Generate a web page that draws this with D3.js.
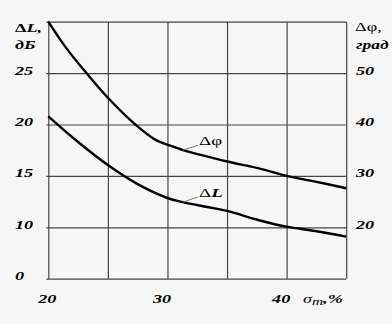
<!DOCTYPE html>
<html>
<head>
<meta charset="utf-8">
<script src="https://cdn.jsdelivr.net/npm/d3@7"></script>
<style>
  html, body { margin: 0; padding: 0; background: #f6f6f6; }
  svg { display: block; }
</style>
</head>
<body>
<script>
// ---- data ----
const phiX = [20, 21.4, 23.2, 25, 27.3, 29, 30.6, 31.3, 32.6, 35, 37.6, 40, 42.4, 45];
const phiY = [60, 55.2, 50, 45.2, 40, 37.0, 35.6, 35.0, 34.2, 32.8, 31.5, 30, 28.9, 27.6];
const dlX = [20, 22.5, 25, 27.5, 30, 31.3, 33.2, 35, 37.6, 40, 42.4, 45];
const dlY = [20.8, 18.3, 16.06, 14.2, 12.85, 12.45, 12.0, 11.59, 10.71, 10.06, 9.64, 9.09];

const xGrid = [20, 25, 30, 35, 40, 45];
const xLabelValues = [20, 30, 40];
const leftGrid = [5, 10, 15, 20, 25, 30];
const leftLabelValues = [5, 10, 15, 20, 25];
const leftLabels = ["0", "10", "15", "20", "25"];
const rightLabelValues = [20, 30, 40, 50];

// ---- layout ----
const W = 392, H = 324;
const m = { left: 48.3, right: 392 - 346.2, top: 21.7, bottom: 324 - 278.7 };
const iw = W - m.left - m.right, ih = H - m.top - m.bottom;
const SX = 1.4; // horizontal stretch of the lettering
const FONT = "'Liberation Serif', 'Times New Roman', serif";

const svg = d3.select("body").append("svg").attr("width", W).attr("height", H);
const g = svg.append("g").attr("transform", `translate(${m.left},${m.top})`);

const x = d3.scaleLinear().domain([20, 45]).range([0, iw]);
const yL = d3.scaleLinear().domain([5, 30]).range([ih, 0]);
const yR = d3.scaleLinear().domain([10, 60]).range([ih, 0]);

// grid via axes
const gridColor = "#454545";
const gy = g.append("g").call(d3.axisLeft(yL).tickValues(leftGrid).tickSize(-iw - 2).tickFormat(""))
  .attr("transform", "translate(-2,0)");
gy.select(".domain").remove();
gy.selectAll(".tick line").attr("stroke", gridColor).attr("stroke-width", 1.2);

const gx = g.append("g").call(d3.axisBottom(x).tickValues(xGrid).tickSize(-ih).tickFormat(""))
  .attr("transform", `translate(0,${ih})`);
gx.select(".domain").remove();
gx.selectAll(".tick line").attr("stroke", gridColor).attr("stroke-width", 1.2);

// curves
const line = (xs, ys, ys2) => d3.line()
  .x((d, i) => x(xs[i]))
  .y((d, i) => ys2(ys[i]))
  .curve(d3.curveCatmullRom.alpha(0.5))(xs);

g.append("path").attr("d", line(phiX, phiY, yR))
  .attr("fill", "none").attr("stroke", "#000").attr("stroke-width", 2.4).attr("stroke-linejoin", "round");
g.append("path").attr("d", line(dlX, dlY, yL))
  .attr("fill", "none").attr("stroke", "#000").attr("stroke-width", 2.4).attr("stroke-linejoin", "round");

// text helper
function label(px, py, parts, size, anchor) {
  const t = svg.append("text")
    .attr("transform", `translate(${px},${py}) scale(${SX},1)`)
    .attr("font-family", FONT).attr("font-size", size)
    .attr("text-anchor", anchor || "start").attr("fill", "#000");
  parts.forEach(p => {
    const ts = t.append("tspan").text(p.t)
      .attr("font-weight", p.w || "bold").attr("font-style", p.s || "italic");
    if (p.dy) ts.attr("dy", p.dy);
    if (p.fs) ts.attr("font-size", p.fs);
  });
  return t;
}

// left tick labels
leftLabelValues.forEach((v, i) => {
  label(15, m.top + yL(v) + 1.5, [{ t: leftLabels[i] }], 13);
});
// right tick labels
rightLabelValues.forEach(v => {
  label(356, m.top + yR(v) + 1.5, [{ t: String(v) }], 13);
});
// bottom tick labels
xLabelValues.forEach((v, i) => {
  label(m.left + x(v) - (i === 0 ? 1 : 5.5), 302.5, [{ t: String(v) }], 13, "middle");
});

// axis titles
label(15, 31.5, [{ t: "Δ", w: "bold", s: "normal" }, { t: "L," }], 13);
label(15, 49, [{ t: "дБ" }], 13);
label(355, 31, [{ t: "Δφ,", w: "normal", s: "normal" }], 13);
label(356, 49, [{ t: "град" }], 12.5);
label(303, 302.5, [{ t: "σ", w: "normal" }, { t: "т", w: "normal", dy: 2, fs: 11 }, { t: ",%", dy: -2 }], 13);

// curve labels with leader lines
const leaderColor = "#777";
g.append("line")
  .attr("x1", x(31.3)).attr("y1", yR(35.0))
  .attr("x2", x(32.55)).attr("y2", yR(35.95))
  .attr("stroke", leaderColor).attr("stroke-width", 1);
g.append("line")
  .attr("x1", x(31.3)).attr("y1", yL(12.45))
  .attr("x2", x(32.55)).attr("y2", yL(12.95))
  .attr("stroke", leaderColor).attr("stroke-width", 1);

label(m.left + x(32.65), m.top + yR(35.95), [{ t: "Δφ", w: "normal", s: "normal" }], 13.5);
label(m.left + x(32.65), m.top + yL(12.95), [{ t: "Δ", w: "normal", s: "normal" }, { t: "L" }], 13.5);
</script>
</body>
</html>
